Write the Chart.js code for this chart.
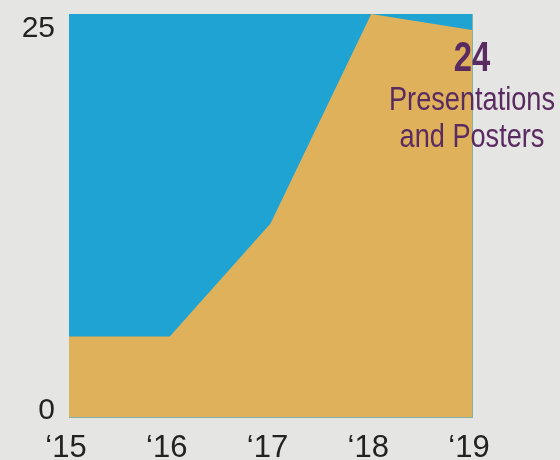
<!DOCTYPE html>
<html>
<head>
<meta charset="utf-8">
<script src="https://cdn.jsdelivr.net/npm/chart.js@4"></script>
<style>
  html, body { margin: 0; padding: 0; background: #e5e5e3; }
  #wrap { width: 560px; height: 460px; }
</style>
</head>
<body>
<div id="wrap"><canvas id="myChart"></canvas></div>
<script>
// data
const years = ['\u201815', '\u201816', '\u201817', '\u201818', '\u201819']
const presentations = [5, 5, 12, 25, 24]
const yTicks = [0, 25]
const noteLines = ['24', 'Presentations', 'and Posters']

// draws condensed text by squeezing it horizontally
function narrowText(ctx, text, x, y, squeeze) {
    ctx.save()
    ctx.translate(x, y)
    ctx.scale(squeeze, 1)
    ctx.fillText(text, 0, 0)
    ctx.restore()
}

// blue panel behind the area + the callout text on top
const panelPlugin = {
    id: 'panel',
    beforeDatasetsDraw(chart) {
        const a = chart.chartArea
        const ctx = chart.ctx
        ctx.save()
        ctx.fillStyle = '#7fb1a5'
        ctx.fillRect(a.left, a.top, a.right - a.left + 1, a.bottom - a.top + 1)
        ctx.fillStyle = '#1ea3d3'
        ctx.fillRect(a.left, a.top, a.right - a.left, a.bottom - a.top)
        ctx.restore()
    },
    afterDatasetsDraw(chart) {
        const ctx = chart.ctx
        const x = chart.scales.x.getPixelForValue(4)
        ctx.save()
        ctx.fillStyle = '#5a2b60'
        ctx.textAlign = 'center'
        ctx.textBaseline = 'middle'
        ctx.font = 'bold 42px "Liberation Sans", Arial, sans-serif'
        narrowText(ctx, noteLines[0], x, 59, 0.78)
        ctx.font = '34px "Liberation Sans", Arial, sans-serif'
        const w = ctx.measureText(noteLines[1]).width
        const sq = 166 / w
        narrowText(ctx, noteLines[1], x, 101, sq)
        narrowText(ctx, noteLines[2], x, 138, sq)
        ctx.restore()

        // y labels: top one hangs below the top edge, bottom one sits on the base
        const y = chart.scales.y
        ctx.save()
        ctx.fillStyle = '#222'
        ctx.font = '30px "Liberation Sans", Arial, sans-serif'
        ctx.textAlign = 'right'
        ctx.textBaseline = 'alphabetic'
        yTicks.forEach(v => {
            const py = y.getPixelForValue(v)
            const base = v === y.max ? py + 23 : py + 2
            ctx.fillText(String(v), y.right - 14, base)
        })
        ctx.restore()
    }
}

const chart1 = document.getElementById('myChart')
new Chart(chart1, {
    type: 'line',
    data: {
        labels: years,
        datasets: [{
            data: presentations,
            fill: 'origin',
            backgroundColor: '#e0b15b',
            borderWidth: 0,
            pointRadius: 0,
            tension: 0
        }]
    },
    options: {
        responsive: true,
        maintainAspectRatio: false,
        animation: false,
        layout: { padding: { top: 14, right: 88, left: 0, bottom: 0 } },
        plugins: {
            legend: { display: false },
            tooltip: { enabled: false }
        },
        scales: {
            x: {
                offset: false,
                grid: { display: false, drawTicks: false },
                border: { display: false },
                ticks: {
                    color: '#222',
                    font: { family: '"Liberation Sans", Arial, sans-serif', size: 31 },
                    padding: 13,
                    labelOffset: -3,
                    maxRotation: 0,
                    autoSkip: false
                },
                afterFit(scale) {
                    scale.height = 43
                    scale.paddingLeft = 0
                    scale.paddingRight = 0
                }
            },
            y: {
                min: 0,
                max: 25,
                grid: { display: false, drawTicks: false },
                border: { display: false },
                afterBuildTicks(scale) { scale.ticks = yTicks.map(v => ({ value: v })) },
                ticks: { display: false },
                afterFit(scale) {
                    scale.width = 69
                    scale.paddingTop = 0
                    scale.paddingBottom = 0
                }
            }
        }
    },
    plugins: [panelPlugin]
})
</script>
</body>
</html>
